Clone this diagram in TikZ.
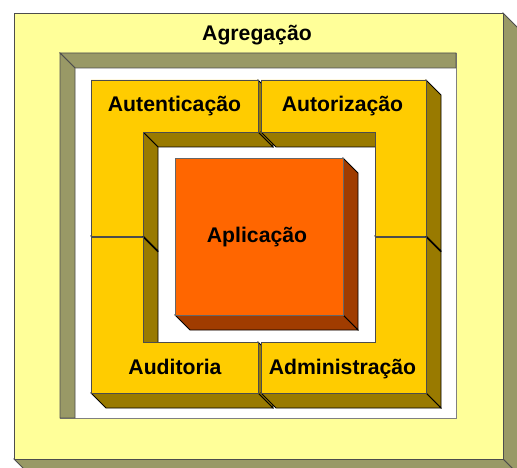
\documentclass[tikz,border=0pt]{standalone}
\usepackage{fontspec}
\setmainfont{Liberation Sans}
\definecolor{aggfront}{HTML}{FFFF99}
\definecolor{aggside}{HTML}{999966}
\definecolor{blkfront}{HTML}{FFCC00}
\definecolor{blkside}{HTML}{997A00}
\definecolor{appfront}{HTML}{FF6600}
\definecolor{appside}{HTML}{A03C00}
\definecolor{edgegray}{HTML}{4D4D4D}
\begin{document}
\begin{tikzpicture}[x=1pt,y=-1pt,
  outerside/.style={fill=aggside, draw=edgegray, line width=0.8pt, line join=miter},
  outerfront/.style={fill=aggfront, draw=edgegray, line width=0.8pt},
  holeback/.style={fill=white, draw=gray, line width=0.8pt},
  blkface/.style={fill=blkside, draw=black, line width=0.8pt, line join=miter},
  blkfr/.style={fill=blkfront, draw=black!70, line width=0.8pt, line join=miter},
  appface/.style={fill=appside, draw=black, line width=0.8pt, line join=miter},
  appfr/.style={fill=appfront, draw=black!60, line width=0.8pt},
  lbl/.style={anchor=base, inner sep=0pt, font=\fontsize{21.2}{25}\selectfont\bfseries, text=black}]
\useasboundingbox (0,0) rectangle (517,468);
\clip (0,0) rectangle (517,468);
\fill[white] (0,0) rectangle (517,468);

% Agregacao outer frame
\draw[outerside] (503,13) -- (518,28) -- (518,474) -- (503,459) -- cycle;
\draw[outerside] (14,459) -- (503,459) -- (518,474) -- (29,474) -- cycle;
\draw[outerfront] (14,13) rectangle (503,459);
\draw[holeback] (60,53) rectangle (456,418);
\draw[outerside] (60,53) -- (456,53) -- (456,68) -- (75,68) -- cycle;
\draw[outerside] (60,53) -- (75,68) -- (75,418) -- (60,418) -- cycle;

% Autenticacao
\draw[blkface] (258,80) -- (273,95) -- (273,147) -- (258,132) -- cycle;
\draw[blkface] (143,132) -- (258,132) -- (273,147) -- (158,147) -- cycle;
\draw[blkface] (143,132) -- (158,147) -- (158,251) -- (143,236) -- cycle;
\draw[blkface] (91,236) -- (143,236) -- (158,251) -- (106,251) -- cycle;
\draw[blkfr] (91,80) -- (258,80) -- (258,132) -- (143,132) -- (143,236) -- (91,236) -- cycle;

% Autorizacao
\draw[blkface] (261,132) -- (375,132) -- (390,147) -- (276,147) -- cycle;
\draw[blkface] (426,80) -- (441,95) -- (441,251) -- (426,236) -- cycle;
\draw[blkface] (375,236) -- (426,236) -- (441,251) -- (390,251) -- cycle;
\draw[blkfr] (261,80) -- (426,80) -- (426,236) -- (375,236) -- (375,132) -- (261,132) -- cycle;

% Auditoria
\draw[blkface] (143,237) -- (158,252) -- (158,357) -- (143,342) -- cycle;
\draw[blkface] (258,342) -- (273,357) -- (273,408) -- (258,393) -- cycle;
\draw[blkface] (91,393) -- (258,393) -- (273,408) -- (106,408) -- cycle;
\draw[blkfr] (91,237) -- (143,237) -- (143,342) -- (258,342) -- (258,393) -- (91,393) -- cycle;

% Administracao
\draw[blkface] (426,237) -- (441,252) -- (441,408) -- (426,393) -- cycle;
\draw[blkface] (261,393) -- (426,393) -- (441,408) -- (276,408) -- cycle;
\draw[blkfr] (375,237) -- (426,237) -- (426,393) -- (261,393) -- (261,342) -- (375,342) -- cycle;

% Aplicacao
\draw[appface] (343,158) -- (358,173) -- (358,330) -- (343,315) -- cycle;
\draw[appface] (175,315) -- (343,315) -- (358,330) -- (190,330) -- cycle;
\draw[appfr] (175,158) rectangle (343,315);

% labels
\node[lbl] (agr) at (257,41) {Agregação};
\node[lbl] (aut) at (174.5,112) {Autenticação};
\node[lbl] (atz) at (342.5,112) {Autorização};
\node[lbl] (adt) at (175,374) {Auditoria};
\node[lbl] (adm) at (342.5,374) {Administração};
\node[lbl] (apl) at (257,242) {Aplicação};
\end{tikzpicture}
\end{document}
